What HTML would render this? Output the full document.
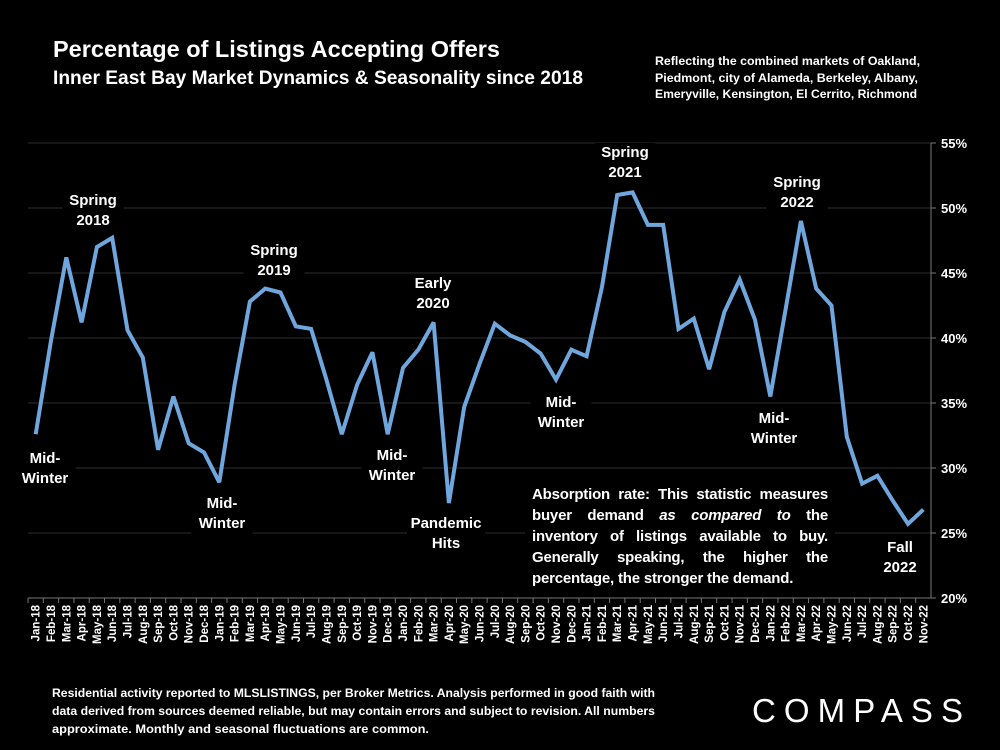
<!DOCTYPE html>
<html><head><meta charset="utf-8"><style>
html,body{margin:0;padding:0;background:#000;}
svg{display:block;}
text{font-family:"Liberation Sans",sans-serif;fill:#fff;}
#note{position:absolute;left:532px;top:484px;width:296px;font:bold 15px/21px "Liberation Sans",sans-serif;color:#fff;letter-spacing:-0.2px;}
#note div{text-align:justify;text-align-last:justify;white-space:nowrap;}
#note div.last{text-align-last:left;}
</style></head><body>
<svg id="chart" width="1000" height="750" viewBox="0 0 1000 750">
<rect width="1000" height="750" fill="#000"/>
<text x="53" y="57" font-size="23" font-weight="bold" textLength="447" lengthAdjust="spacingAndGlyphs">Percentage of Listings Accepting Offers</text>
<text x="53" y="84" font-size="19" font-weight="bold" textLength="530" lengthAdjust="spacingAndGlyphs">Inner East Bay Market Dynamics &amp; Seasonality since 2018</text>
<g font-size="12" font-weight="bold">
<text x="655" y="65" textLength="265" lengthAdjust="spacingAndGlyphs">Reflecting the combined markets of Oakland,</text>
<text x="655" y="82" textLength="263" lengthAdjust="spacingAndGlyphs">Piedmont, city of Alameda, Berkeley, Albany,</text>
<text x="655" y="98" textLength="262" lengthAdjust="spacingAndGlyphs">Emeryville, Kensington, El Cerrito, Richmond</text>
</g>
<g id="grid"></g>
<g id="yaxis"></g>
<g id="xaxis"></g>
<g id="masks"></g>
<g id="series"></g>
<g id="annots" font-size="15" font-weight="bold" text-anchor="middle"></g>
<g font-size="12" font-weight="bold">
<text x="52" y="697" textLength="603" lengthAdjust="spacingAndGlyphs">Residential activity reported to MLSLISTINGS, per Broker Metrics. Analysis performed in good faith with</text>
<text x="52" y="715" textLength="603" lengthAdjust="spacingAndGlyphs">data derived from sources deemed reliable, but may contain errors and subject to revision. All numbers</text>
<text x="52" y="733" textLength="377" lengthAdjust="spacingAndGlyphs">approximate. Monthly and seasonal fluctuations are common.</text>
</g>
<text x="752" y="722" font-size="33" textLength="211" lengthAdjust="spacing" style="font-weight:normal">COMPASS</text>
</svg>
<div id="note"><div>Absorption rate: This statistic measures</div><div>buyer demand <i>as compared to</i> the</div><div>inventory of listings available to buy.</div><div>Generally speaking, the higher the</div><div class="last">percentage, the stronger the demand.</div></div>
<script>
const categories=["Jan-18","Feb-18","Mar-18","Apr-18","May-18","Jun-18","Jul-18","Aug-18","Sep-18","Oct-18","Nov-18","Dec-18","Jan-19","Feb-19","Mar-19","Apr-19","May-19","Jun-19","Jul-19","Aug-19","Sep-19","Oct-19","Nov-19","Dec-19","Jan-20","Feb-20","Mar-20","Apr-20","May-20","Jun-20","Jul-20","Aug-20","Sep-20","Oct-20","Nov-20","Dec-20","Jan-21","Feb-21","Mar-21","Apr-21","May-21","Jun-21","Jul-21","Aug-21","Sep-21","Oct-21","Nov-21","Dec-21","Jan-22","Feb-22","Mar-22","Apr-22","May-22","Jun-22","Jul-22","Aug-22","Sep-22","Oct-22","Nov-22"];
const values=[32.6,39.8,46.2,41.2,47.0,47.7,40.6,38.5,31.4,35.5,31.9,31.2,28.9,36.4,42.8,43.8,43.5,40.9,40.7,36.8,32.6,36.4,38.9,32.6,37.7,39.1,41.2,27.3,34.7,38.0,41.1,40.2,39.7,38.8,36.8,39.1,38.6,43.9,51.0,51.2,48.7,48.7,40.7,41.5,37.6,42.0,44.5,41.4,35.5,42.2,49.0,43.8,42.5,32.4,28.8,29.4,27.5,25.7,26.8];
const yTicks=[20,25,30,35,40,45,50,55];
const yTickLabels=["20%","25%","30%","35%","40%","45%","50%","55%"];
const annotations=[["Mid-","Winter"],["Spring","2018"],["Mid-","Winter"],["Spring","2019"],["Mid-","Winter"],["Early","2020"],["Pandemic","Hits"],["Mid-","Winter"],["Spring","2021"],["Spring","2022"],["Mid-","Winter"],["Fall","2022"]];
const annotPos=[[45,463],[93,205],[222,508],[274,255],[392,460],[433,288],[446,528],[561,407],[625,157],[797,187],[774,423],[900,552]];
const NS="http://www.w3.org/2000/svg";
const X0=28,X1=931,Y20=598,Y55=143;
const band=(X1-X0)/categories.length;
const xs=i=>X0+band*(i+0.5);
const ys=v=>Y20-(v-20)*(Y20-Y55)/35;
function mk(tag,attrs,parent){const e=document.createElementNS(NS,tag);for(const k in attrs)e.setAttribute(k,attrs[k]);parent.appendChild(e);return e;}
const grid=document.getElementById('grid'),yaxis=document.getElementById('yaxis'),xaxis=document.getElementById('xaxis');
yTicks.forEach((t,i)=>{
  if(t>20){const g=mk('line',{x1:X0,x2:X1,y1:ys(t),y2:ys(t),stroke:'#2e2e2e','stroke-width':1},grid);
  
  }
  mk('line',{x1:X1,x2:X1+5,y1:ys(t),y2:ys(t),stroke:'#777'},yaxis);
  const tx=mk('text',{x:941,y:ys(t)+5,'font-size':13,'font-weight':'bold'},yaxis);
  tx.textContent=yTickLabels[i];
  
  
});
mk('line',{x1:X1,x2:X1,y1:Y55,y2:Y20,stroke:'#777'},yaxis);
mk('line',{x1:X0,x2:X1,y1:Y20,y2:Y20,stroke:'#777'},xaxis);
categories.forEach((c,i)=>{
  const x=X0+band*i;
  mk('line',{x1:x,x2:x,y1:Y20,y2:Y20+5,stroke:'#777'},xaxis);
  const t=mk('text',{x:0,y:0,'font-size':11.5,'font-weight':'bold','text-anchor':'end',transform:`translate(${xs(i)+4},${Y20+7}) rotate(-90)`},xaxis);
  t.textContent=c;
  
  
});
const pts=values.map((v,i)=>xs(i).toFixed(1)+','+ys(v).toFixed(1)).join(' ');
const pl=mk('polyline',{points:pts,fill:'none',stroke:'#6ea6dd','stroke-width':4,'stroke-linejoin':'miter','stroke-miterlimit':3},document.getElementById('series'));


const masks=document.getElementById('masks'),an=document.getElementById('annots');
annotations.forEach((a,i)=>{
  const [cx,cy]=annotPos[i];
  const w=Math.max(a[0].length,a[1].length)*8.5+10;
  mk('rect',{x:cx-w/2,y:cy-14,width:w,height:42,fill:'#000'},masks);
  a.forEach((line,j)=>{
    const t=mk('text',{x:cx,y:cy+j*20},an);
    t.textContent=line;
    
    
  });
});
mk('rect',{x:525,y:482,width:310,height:110,fill:'#000'},masks);
</script>
</body></html>
